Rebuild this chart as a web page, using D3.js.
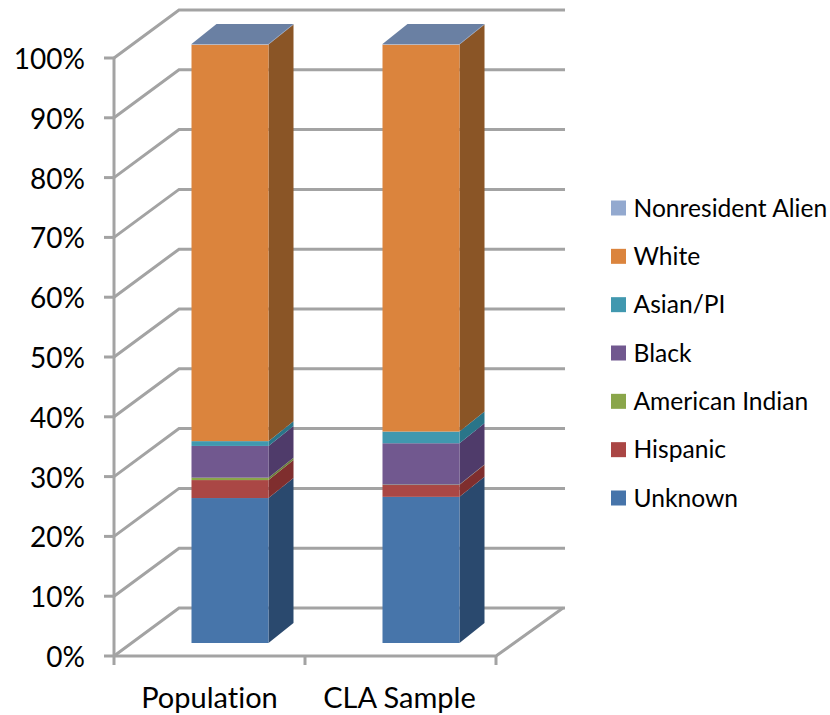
<!DOCTYPE html>
<html><head><meta charset="utf-8">
<script src="https://cdnjs.cloudflare.com/ajax/libs/d3/7.8.5/d3.min.js"></script>
<style>html,body{margin:0;padding:0;background:#fff}svg{display:block}text{font-family:Lato,"Open Sans",sans-serif;fill:#000;font-variant-ligatures:none}</style>
</head><body><svg id="c" width="830" height="715"></svg>
<script>
const categories = ["Population", "CLA Sample"];
const seriesNames = ["Unknown", "Hispanic", "American Indian", "Black", "Asian/PI", "White", "Nonresident Alien"];
const unknownVals = [24.2, 24.4];
const hispanicVals = [3.0, 2.0];
const amIndianVals = [0.4, 0.05];
const blackVals = [5.3, 6.9];
const asianVals = [0.8, 1.95];
const whiteVals = [66.2, 64.6];
const nonresidentVals = [0.1, 0.1];
const frontColors = ["#4674aa", "#aa4644", "#8aa64a", "#71588f", "#4198af", "#db843d", "#93a9cf"];
const sideColors = ["#2c4a6e", "#7f2f2e", "#6a7f38", "#4f3b6b", "#2a7489", "#8a5427", "#6b80a3"];
const yTicks = [0,10,20,30,40,50,60,70,80,90,100];

const table = categories.map((c,i)=>({cat:c,
  "Unknown":unknownVals[i],"Hispanic":hispanicVals[i],"American Indian":amIndianVals[i],
  "Black":blackVals[i],"Asian/PI":asianVals[i],"White":whiteVals[i],"Nonresident Alien":nonresidentVals[i]}));
const stacked = d3.stack().keys(seriesNames)(table);

const svg = d3.select("#c");
svg.append("defs").append("filter").attr("id","soft").append("feGaussianBlur").attr("stdDeviation",0.45);
const gridColor = "#a3a3a3";
const y = d3.scaleLinear().domain([0,100]).range([656,58]);
const x = d3.scaleBand().domain(categories).range([114,496]);
const wall = {dx:65, dy:-48};
const floorRight = 496;

// gridlines on side wall and back wall
const grid = svg.append("g").attr("fill","none").attr("stroke",gridColor).attr("stroke-width",3).attr("filter","url(#soft)");
yTicks.forEach(t=>{
  const yy=y(t);
  grid.append("path").attr("d",d3.line()([[x.range()[0],yy],[x.range()[0]+wall.dx,yy+wall.dy],[floorRight+wall.dx+4,yy+wall.dy]]));
});
// floor right edge and front
grid.append("path").attr("d",d3.line()([[x.range()[0],y(0)],[floorRight,y(0)],[floorRight+wall.dx+2,y(0)+wall.dy]]));
// vertical axis
grid.append("line").attr("x1",114).attr("x2",114).attr("y1",y(100)-1).attr("y2",y(0)+9);
// ticks
yTicks.forEach(t=>grid.append("line").attr("x1",104).attr("x2",114).attr("y1",y(t)).attr("y2",y(t)));
[...categories.map(c=>x(c)),floorRight].forEach(v=>{
  if(v>114) grid.append("line").attr("x1",v).attr("x2",v).attr("y1",y(0)).attr("y2",y(0)+9);
});

// bars
const barW = 77, barDx = 25, barDy = -20, barShift = 20.5;
const by = d3.scaleLinear().domain([0,100]).range([643,44]);
const barLeft = c => x(c) + (x.bandwidth()-barW)/2 + barShift;
const g = svg.append("g").attr("filter","url(#soft)");
stacked.forEach((s,si)=>{
  s.forEach((d,i)=>{
    const c = categories[i], x0=barLeft(c), x1=x0+barW, y0=by(d[0]), y1=by(d[1]);
    g.append("path").attr("fill",sideColors[si])
      .attr("d",d3.line()([[x1,y0],[x1+barDx,y0+barDy],[x1+barDx,y1+barDy],[x1,y1]])+"Z");
    g.append("rect").attr("fill",frontColors[si])
      .attr("x",x0).attr("width",barW).attr("y",y1).attr("height",Math.max(y0-y1,0.5));
    if(si===seriesNames.length-1){
      g.append("path").attr("fill",sideColors[si])
        .attr("d",d3.line()([[x0,y1],[x0+barDx,y1+barDy],[x1+barDx,y1+barDy],[x1,y1]])+"Z");
    }
  });
});

// axis labels
svg.append("g").selectAll("text").data(yTicks).join("text")
  .attr("x",85).attr("y",d=>y(d)+11).attr("text-anchor","end")
  .attr("font-size",28).text(d=>d+"%");
svg.append("g").selectAll("text").data(categories).join("text")
  .attr("x",(c,i)=>x(c)+x.bandwidth()/2+(i?-1:0)).attr("y",708).attr("text-anchor","middle")
  .attr("font-size",29).text(c=>c);

// legend
const legendY = d3.scalePoint().domain(seriesNames).range([498,208]);
const lg = svg.append("g").selectAll("g").data(seriesNames).join("g")
  .attr("transform",d=>`translate(611,${legendY(d)})`);
lg.append("rect").attr("y",-7.5).attr("width",15).attr("height",15).attr("fill",(d,i)=>frontColors[i]);
lg.append("text").attr("x",22.5).attr("y",8.5).attr("font-size",24.6).text(d=>d);
</script></body></html>
